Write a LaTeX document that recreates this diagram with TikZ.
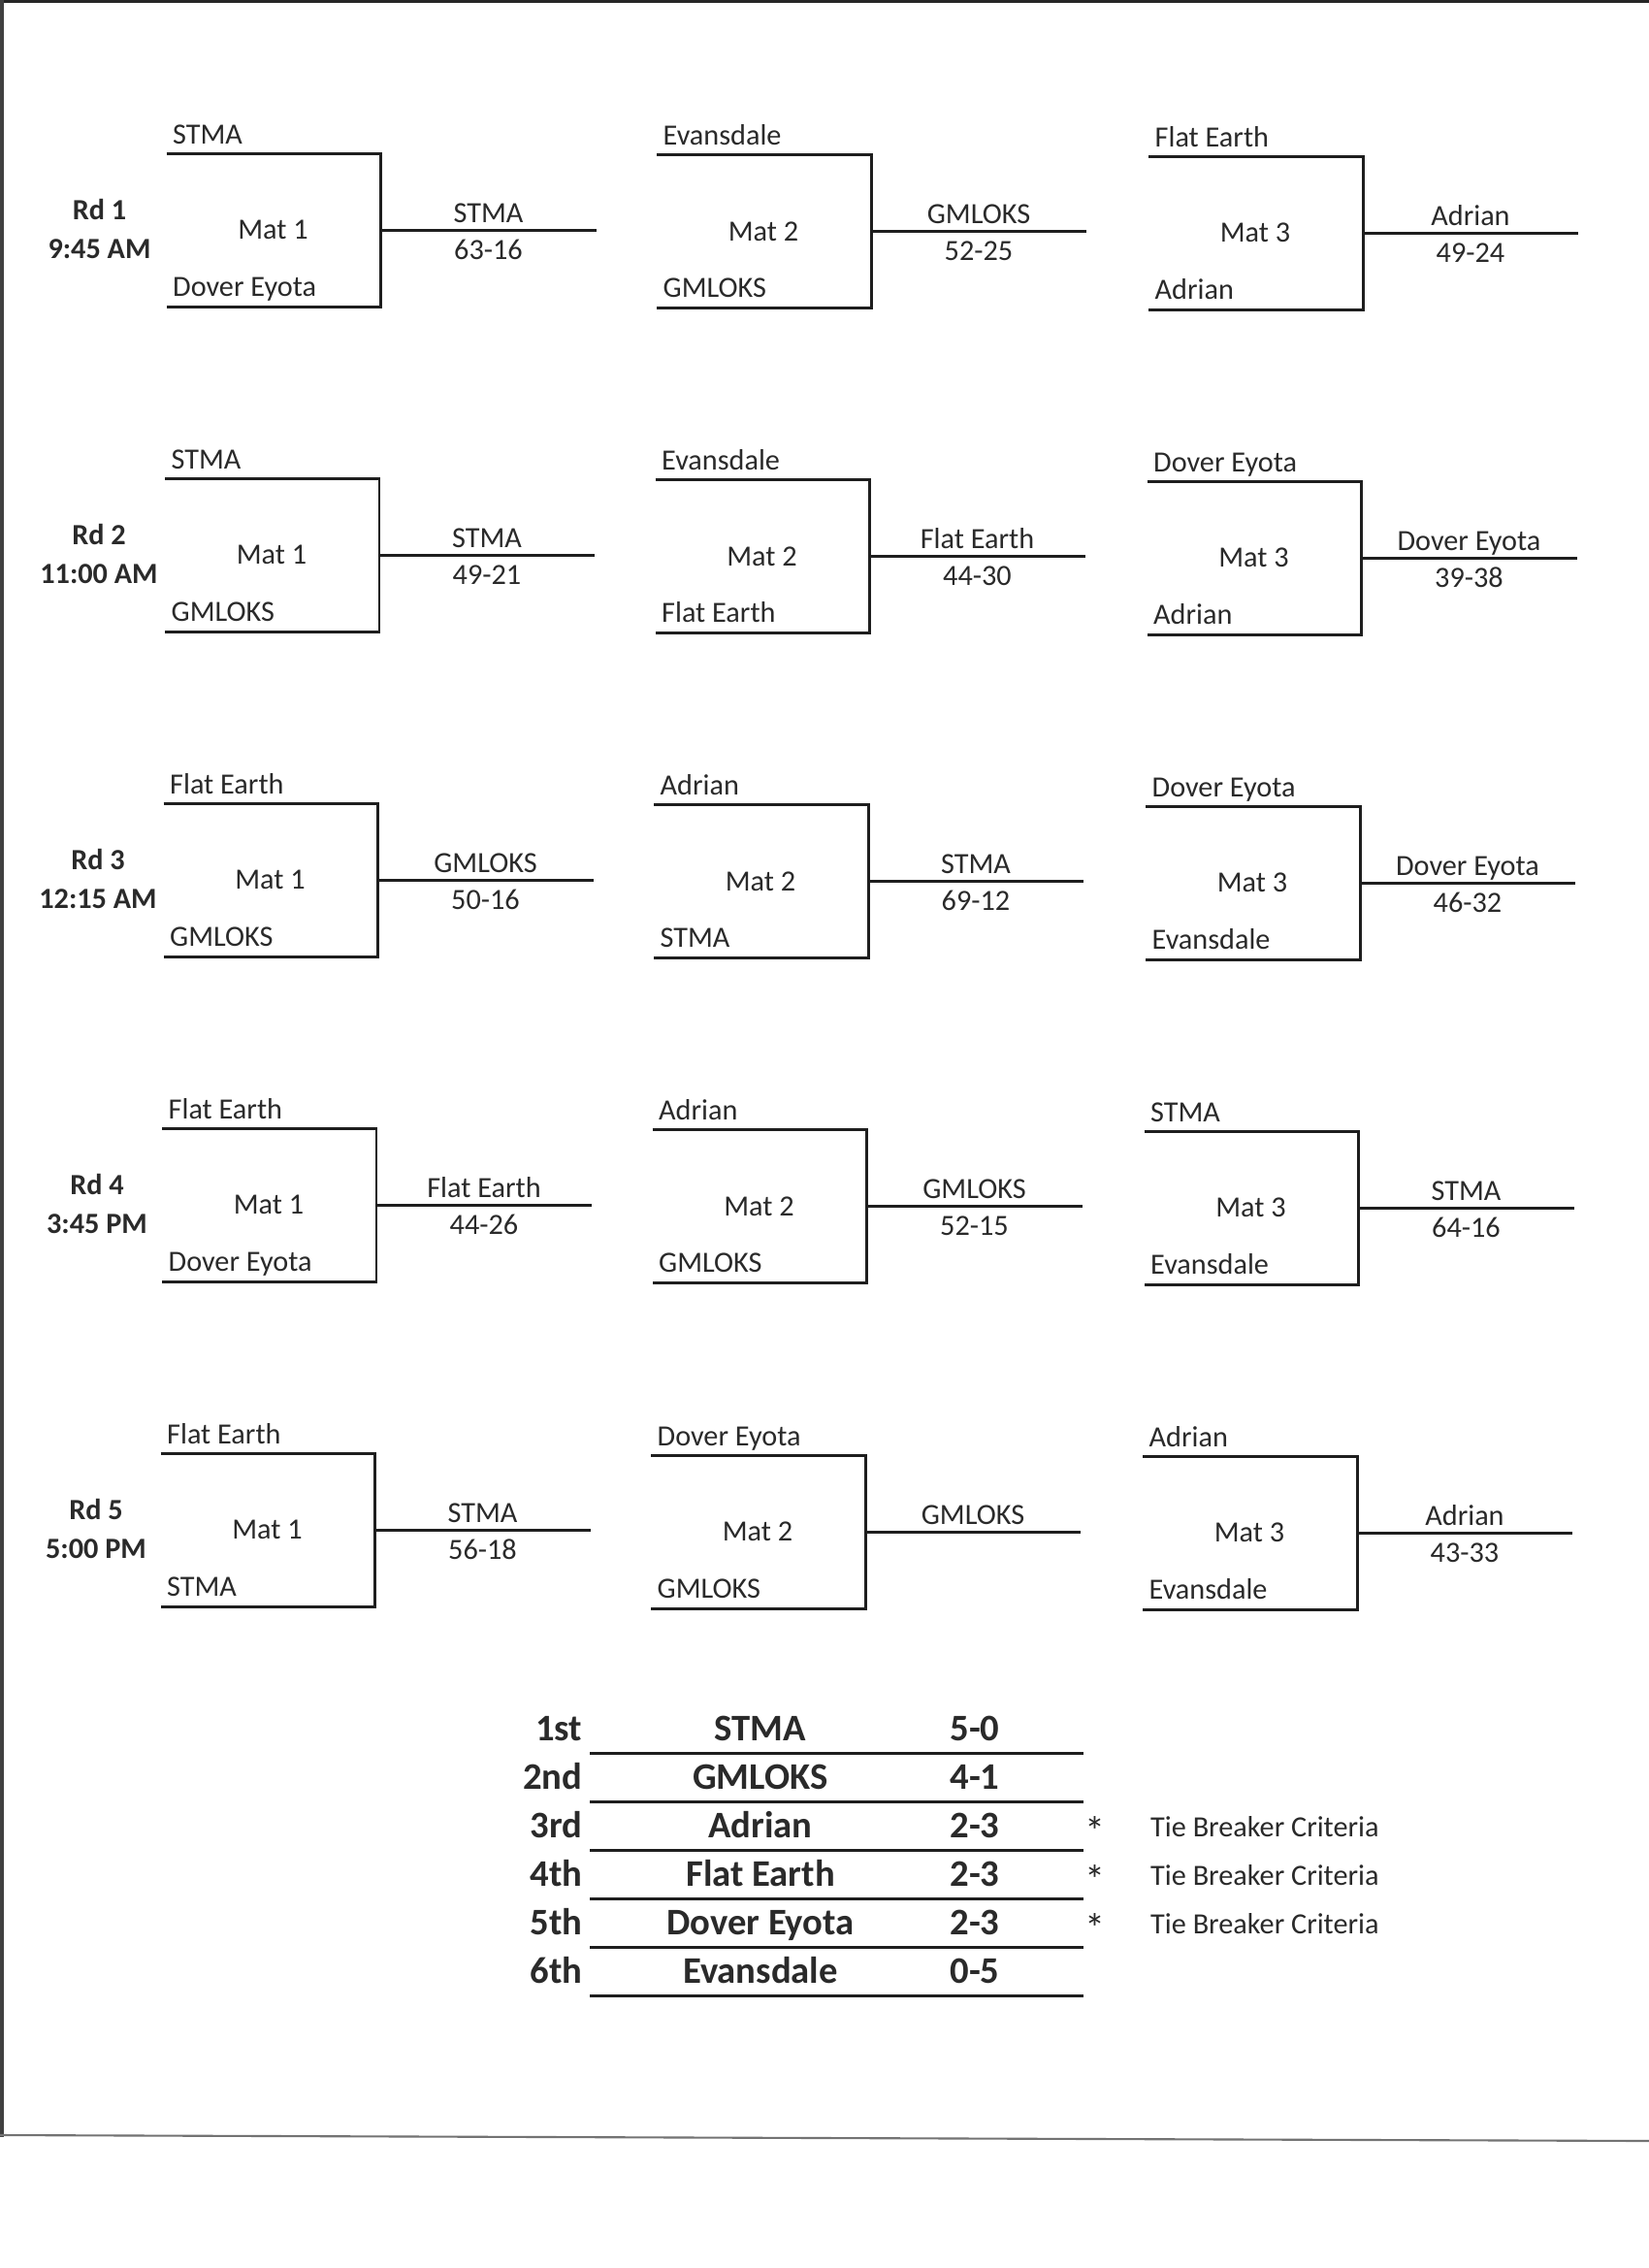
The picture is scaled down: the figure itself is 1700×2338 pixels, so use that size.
\documentclass[tikz,border=0pt]{standalone}
\usepackage{fontspec}
\setmainfont{Carlito}
\definecolor{linec}{HTML}{1E1E1E}
\definecolor{txtc}{HTML}{2A2A2A}
\newcommand\bracket[8]{%
 \coordinate (#1tl) at (#2,#3);
 \coordinate (#1tr) at (#2+221,#3);
 \coordinate (#1br) at (#2+221,#3+158);
 \coordinate (#1bl) at (#2,#3+158);
 \coordinate (#1m) at (#2+221,#3+79);
 \coordinate (#1e) at (#2+443,#3+79);
 \draw[brline] (#1tl) -- (#1tr) -- (#1br) -- (#1bl);
 \draw[brline] (#1m) -- (#1e);
 \node[team,anchor=base west] (#1a) at (#2+6,#3-10) {#4};
 \node[team,anchor=base west] (#1b) at (#2+6,#3+147) {#5};
 \node[team,anchor=base] (#1mat) at (#2+110,#3+88.5) {#6};
 \node[team,anchor=base] (#1w) at (#2+332,#3+71) {#7};
 \if\relax\detokenize{#8}\relax\else
 \node[team,anchor=base] (#1s) at (#2+332,#3+109) {#8};\fi
}
\newcommand\rdlabel[5]{%
 \node[rd,anchor=base] (#1a) at (#2,#3) {#4};
 \node[rd,anchor=base] (#1b) at (#2,#3+39.6) {#5};
}
\begin{document}
\begin{tikzpicture}[x=0.01cm,y=-0.01cm,
  brline/.style={draw=linec,line width=0.85pt},
  team/.style={font=\fontsize{8.6}{10}\selectfont,text=txtc,inner sep=0pt},
  rd/.style={font=\bfseries\fontsize{8.6}{10}\selectfont,text=txtc,inner sep=0pt},
  tab/.style={font=\bfseries\fontsize{11}{13}\selectfont,text=txtc,inner sep=0pt},
  star/.style={font=\fontsize{12}{14}\selectfont,text=txtc,inner sep=0pt},
  tabline/.style={draw=linec,line width=0.85pt}]
\path[use as bounding box, fill=white] (0,0) rectangle (1700,2338);
% page frame (scan edges)
\draw[draw=black!85,line width=1.2pt] (0,1) -- (1700,1);
\draw[draw=black!75,line width=1pt] (2,0) -- (2,2203);
\draw[draw=black!55,line width=0.6pt] (0,2201) -- (1700,2207);
% round labels
\rdlabel{rd1}{102.5}{226.4}{Rd 1}{9:45 AM}
\rdlabel{rd2}{102}{561.5}{Rd 2}{11:00 AM}
\rdlabel{rd3}{101}{896.6}{Rd 3}{12:15 AM}
\rdlabel{rd4}{100}{1231.7}{Rd 4}{3:45 PM}
\rdlabel{rd5}{99}{1566.8}{Rd 5}{5:00 PM}
% round 1
\bracket{a1}{171.5}{158}{STMA}{Dover Eyota}{Mat 1}{STMA}{63-16}
\bracket{a2}{677}{159.6}{Evansdale}{GMLOKS}{Mat 2}{GMLOKS}{52-25}
\bracket{a3}{1184}{161}{Flat Earth}{Adrian}{Mat 3}{Adrian}{49-24}
% round 2
\bracket{b1}{170}{493.1}{STMA}{GMLOKS}{Mat 1}{STMA}{49-21}
\bracket{b2}{675.5}{494.7}{Evansdale}{Flat Earth}{Mat 2}{Flat Earth}{44-30}
\bracket{b3}{1182.5}{496.1}{Dover Eyota}{Adrian}{Mat 3}{Dover Eyota}{39-38}
% round 3
\bracket{c1}{168.5}{828.2}{Flat Earth}{GMLOKS}{Mat 1}{GMLOKS}{50-16}
\bracket{c2}{674}{829.8}{Adrian}{STMA}{Mat 2}{STMA}{69-12}
\bracket{c3}{1181}{831.2}{Dover Eyota}{Evansdale}{Mat 3}{Dover Eyota}{46-32}
% round 4
\bracket{d1}{167}{1163.3}{Flat Earth}{Dover Eyota}{Mat 1}{Flat Earth}{44-26}
\bracket{d2}{672.5}{1164.9}{Adrian}{GMLOKS}{Mat 2}{GMLOKS}{52-15}
\bracket{d3}{1179.5}{1166.3}{STMA}{Evansdale}{Mat 3}{STMA}{64-16}
% round 5
\bracket{e1}{165.5}{1498.4}{Flat Earth}{STMA}{Mat 1}{STMA}{56-18}
\bracket{e2}{671}{1500}{Dover Eyota}{GMLOKS}{Mat 2}{GMLOKS}{}
\bracket{e3}{1178}{1501.4}{Adrian}{Evansdale}{Mat 3}{Adrian}{43-33}
% standings
\foreach \i/\rk/\tm/\rec in {0/1st/STMA/5-0,1/2nd/GMLOKS/4-1,2/3rd/Adrian/2-3,3/4th/Flat Earth/2-3,4/5th/Dover Eyota/2-3,5/6th/Evansdale/0-5}{
  \pgfmathsetmacro\ly{1807+50.1*\i}
  \coordinate (tl\i) at (608,\ly);
  \coordinate (tr\i) at (1117,\ly);
  \draw[tabline] (tl\i) -- (tr\i);
  \node[tab,anchor=base east] (rk\i) at (601,\ly-13) {\rk};
  \node[tab,anchor=base] (tm\i) at (784,\ly-13) {\tm};
  \node[tab,anchor=base] (rc\i) at (1005,\ly-13) {\rec};
}
\foreach \i in {2,3,4}{
  \pgfmathsetmacro\ly{1807+50.1*\i}
  \node[star,anchor=base] (ast\i) at (1129,\ly-5) {*};
  \node[team,anchor=base west] (tie\i) at (1185.5,\ly-14) {Tie Breaker Criteria};
}
\end{tikzpicture}
\end{document}
